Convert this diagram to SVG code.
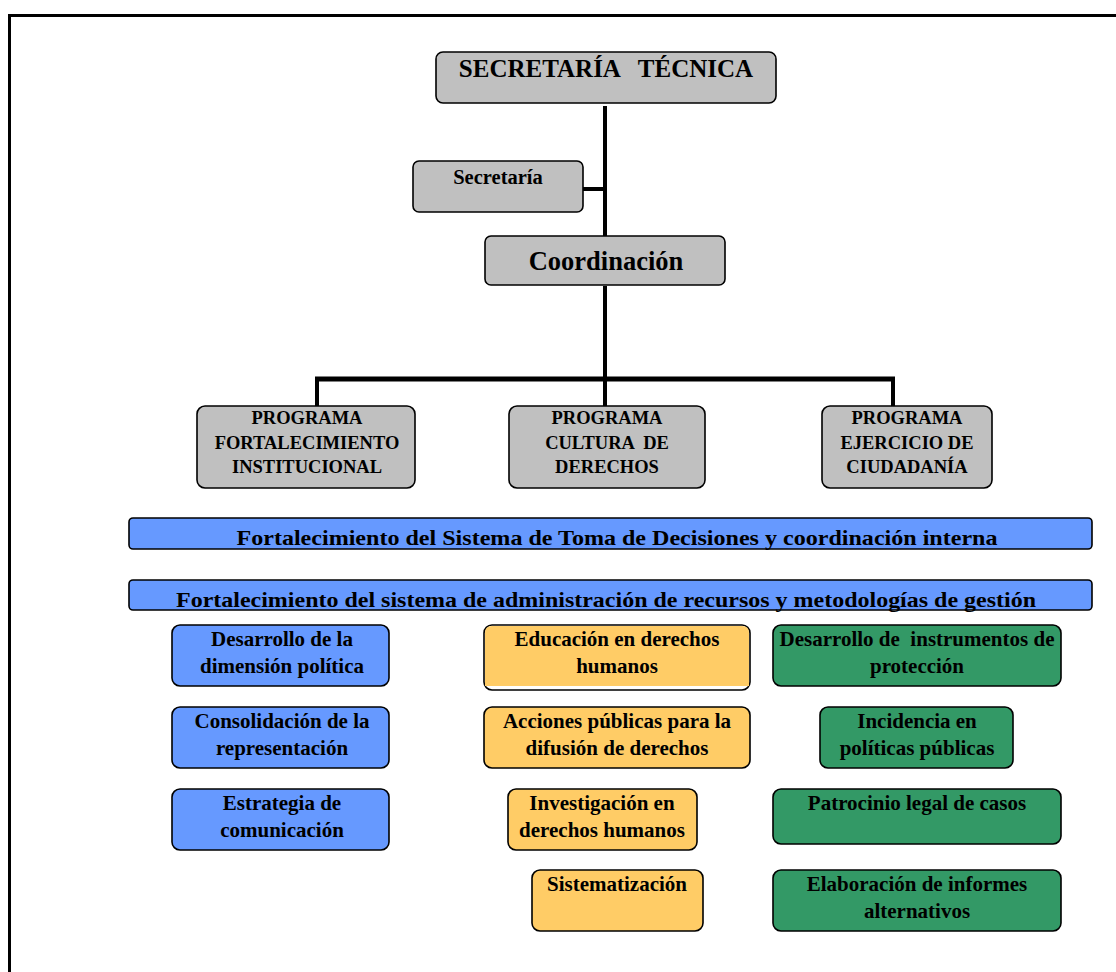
<svg xmlns="http://www.w3.org/2000/svg" width="1116" height="972" viewBox="0 0 1116 972">
<style>
.box{stroke:#000;stroke-width:1.6}
.gray{fill:#c0c0c0}
.blue{fill:#6699ff}
.orange{fill:#ffcc66}
.green{fill:#339966}
text{font-family:"Liberation Serif","Times New Roman",serif;font-weight:bold;fill:#000;text-anchor:middle}
.t17{font-size:18.5px}
.t18{font-size:21px}
.t19{font-size:21.5px}
.line{stroke:#000;fill:none}
</style>
<rect width="1116" height="972" fill="#fff"/>
<path d="M9.5,972 V15.5 H1116" fill="none" stroke="#000" stroke-width="3"/>
<g id="connectors">
<line class="line" x1="605" y1="106" x2="605" y2="244" stroke-width="4"/>
<line class="line" x1="583" y1="189" x2="605" y2="189" stroke-width="4"/>
<line class="line" x1="605" y1="286" x2="605" y2="380" stroke-width="4"/>
<line class="line" x1="315" y1="379" x2="895" y2="379" stroke-width="5"/>
<line class="line" x1="317" y1="377" x2="317" y2="406" stroke-width="4"/>
<line class="line" x1="605" y1="377" x2="605" y2="406" stroke-width="4"/>
<line class="line" x1="893" y1="377" x2="893" y2="406" stroke-width="4"/>
</g>
<g id="secretaria-tecnica">
<rect class="box gray" x="436" y="52" width="340" height="51" rx="7"/>
<text x="606" y="77" style="font-size:25px;white-space:pre">SECRETARÍA   TÉCNICA</text>
</g>
<g id="secretaria">
<rect class="box gray" x="413" y="161" width="170" height="51" rx="6"/>
<text x="498" y="184" style="font-size:20.5px">Secretaría</text>
</g>
<g id="coordinacion">
<rect class="box gray" x="485" y="236" width="240" height="49" rx="6"/>
<text x="606" y="270" style="font-size:26.5px">Coordinación</text>
</g>
<g id="prog-fortalecimiento">
<rect class="box gray" x="197" y="406" width="218" height="82" rx="8"/>
<text class="t17" x="307" y="424">PROGRAMA</text>
<text class="t17" x="307" y="449">FORTALECIMIENTO</text>
<text class="t17" x="307" y="473">INSTITUCIONAL</text>
</g>
<g id="prog-cultura">
<rect class="box gray" x="509" y="406" width="196" height="82" rx="8"/>
<text class="t17" x="607" y="424">PROGRAMA</text>
<text class="t17" x="607" y="449" style="white-space:pre">CULTURA  DE</text>
<text class="t17" x="607" y="473">DERECHOS</text>
</g>
<g id="prog-ciudadania">
<rect class="box gray" x="822" y="406" width="170" height="82" rx="8"/>
<text class="t17" x="907" y="424">PROGRAMA</text>
<text class="t17" x="907" y="449">EJERCICIO DE</text>
<text class="t17" x="907" y="473">CIUDADANÍA</text>
</g>
<g id="bar-decisiones">
<rect class="box blue" x="129" y="518" width="963" height="31" rx="4"/>
<text class="t19" x="617" y="545" textLength="761" lengthAdjust="spacingAndGlyphs">Fortalecimiento del Sistema de Toma de Decisiones y coordinación interna</text>
</g>
<g id="bar-recursos">
<rect class="box blue" x="129" y="580" width="963" height="30" rx="4"/>
<text class="t19" x="606" y="607" textLength="860" lengthAdjust="spacingAndGlyphs">Fortalecimiento del sistema de administración de recursos y metodologías de gestión</text>
</g>
<g id="dimension-politica">
<rect class="box blue" x="172" y="625" width="217" height="61" rx="8"/>
<text class="t18" x="282" y="646">Desarrollo de la</text>
<text class="t18" x="282" y="673">dimensión política</text>
</g>
<g id="representacion">
<rect class="box blue" x="172" y="707" width="217" height="61" rx="8"/>
<text class="t18" x="282" y="728">Consolidación de la</text>
<text class="t18" x="282" y="755">representación</text>
</g>
<g id="comunicacion">
<rect class="box blue" x="172" y="789" width="217" height="61" rx="8"/>
<text class="t18" x="282" y="810">Estrategia de</text>
<text class="t18" x="282" y="837">comunicación</text>
</g>
<g id="educacion">
<rect class="box" x="484" y="625" width="266" height="65" rx="8" fill="#fff"/>
<path d="M485,686 V633 Q485,626 492,626 H742 Q749,626 749,633 V686 Z" fill="#ffcc66"/>
<text class="t18" x="617" y="646">Educación en derechos</text>
<text class="t18" x="617" y="673">humanos</text>
</g>
<g id="acciones">
<rect class="box orange" x="484" y="707" width="266" height="61" rx="8"/>
<text class="t18" x="617" y="728">Acciones públicas para la</text>
<text class="t18" x="617" y="755">difusión de derechos</text>
</g>
<g id="investigacion">
<rect class="box orange" x="508" y="789" width="189" height="61" rx="8"/>
<text class="t18" x="602" y="810">Investigación en</text>
<text class="t18" x="602" y="837">derechos humanos</text>
</g>
<g id="sistematizacion">
<rect class="box orange" x="532" y="870" width="171" height="61" rx="8"/>
<text class="t18" x="617" y="891">Sistematización</text>
</g>
<g id="instrumentos">
<rect class="box green" x="773" y="625" width="288" height="61" rx="8"/>
<text class="t18" x="917" y="646" style="white-space:pre">Desarrollo de  instrumentos de</text>
<text class="t18" x="917" y="673">protección</text>
</g>
<g id="incidencia">
<rect class="box green" x="820" y="707" width="193" height="61" rx="8"/>
<text class="t18" x="917" y="728">Incidencia en</text>
<text class="t18" x="917" y="755">políticas públicas</text>
</g>
<g id="patrocinio">
<rect class="box green" x="773" y="789" width="288" height="55" rx="8"/>
<text class="t18" x="917" y="810">Patrocinio legal de casos</text>
</g>
<g id="informes">
<rect class="box green" x="773" y="870" width="288" height="61" rx="8"/>
<text class="t18" x="917" y="891">Elaboración de informes</text>
<text class="t18" x="917" y="918">alternativos</text>
</g>
</svg>
